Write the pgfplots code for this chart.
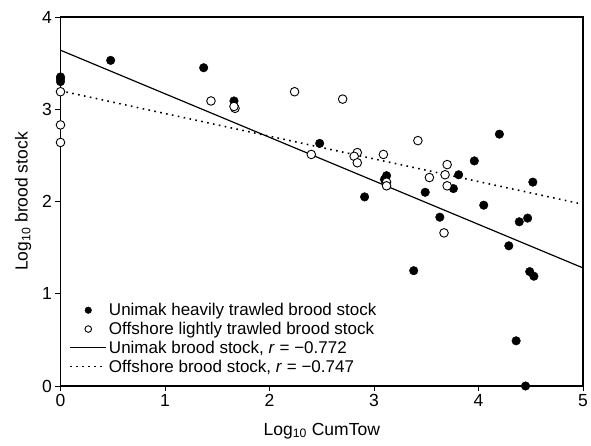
\documentclass[border=0pt]{standalone}
\usepackage{fontspec}
\setmainfont{Liberation Sans}
\usepackage{pgfplots}
\pgfplotsset{compat=1.18}

\pgfplotsset{
  dotlegend/.style={legend image code/.code={%
    \draw[mark repeat=2,mark phase=2,##1,mark size=3.3pt]
      plot coordinates {(0cm,0cm) (0.63cm,0cm) (1.26cm,0cm)};}},
  linelegend/.style={legend image code/.code={%
    \draw[##1] (0cm,0cm) -- (1.26cm,0cm);}},
}

\begin{document}
\begin{tikzpicture}
\path[use as bounding box] (-60.5pt,-59pt) rectangle (530.5pt,386pt);
\begin{axis}[
    scale only axis,
    width=522.5pt, height=369pt,
    xmin=0, xmax=5, ymin=0, ymax=4,
    xtick={0,1,...,5}, ytick={0,1,...,4},
    tick align=outside,
    major tick length=5pt,
    xtick pos=bottom, ytick pos=left,
    axis line style={line width=1.2pt},
    tick style={line width=1pt, black},
    font=\fontsize{17.5}{19}\selectfont,
    /pgf/number format/assume math mode=true,
    clip=false,
    xlabel={Log\textsubscript{10} CumTow},
    ylabel={Log\textsubscript{10} brood stock},
    xlabel style={yshift=-9pt},
    ylabel style={yshift=4pt},
    legend style={draw=none, fill=none, at={(rel axis cs:0.015,0.025)},
      anchor=south west, font=\fontsize{17}{18}\selectfont,
      row sep=1pt, inner sep=1pt},
    legend cell align=left,
]
% Unimak heavily trawled
\addplot[only marks, mark=*, mark size=4.3pt, black, dotlegend] coordinates {
  (0,3.35) (0,3.33) (0,3.30) (0.48,3.53) (1.37,3.45) (1.66,3.09)
  (2.48,2.63) (2.91,2.05) (3.12,2.28) (3.10,2.24) (3.49,2.10)
  (4.20,2.73) (3.96,2.44) (3.81,2.29) (3.76,2.14) (4.52,2.21)
  (4.05,1.96) (3.63,1.83) (4.47,1.82) (4.39,1.78) (4.29,1.52)
  (3.38,1.25) (4.49,1.24) (4.53,1.19) (4.36,0.49) (4.45,0.0)
};
\addlegendentry{Unimak heavily trawled brood stock}
% Offshore lightly trawled
\addplot[only marks, mark=*, mark size=4.3pt, black, fill=white,
  mark options={line width=0.9pt}, dotlegend] coordinates {
  (0,3.19) (0,2.83) (0,2.64) (1.44,3.09) (1.67,3.01) (1.66,3.03)
  (2.24,3.19) (2.70,3.11) (2.40,2.51) (2.84,2.53) (2.81,2.49)
  (2.84,2.42) (3.09,2.51) (3.42,2.66) (3.12,2.21) (3.12,2.17)
  (3.53,2.26) (3.70,2.40) (3.68,2.29) (3.70,2.17) (3.67,1.66)
};
\addlegendentry{Offshore lightly trawled brood stock}
\addplot[black, line width=1.2pt, linelegend] coordinates {(0,3.64) (5,1.28)};
\addlegendentry{Unimak brood stock, \textit{r} = −0.772}
\addplot[black, line width=1.6pt, dash pattern=on 1.6pt off 4.4pt, linelegend]
  coordinates {(0,3.20) (5,1.97)};
\addlegendentry{Offshore brood stock, \textit{r} = −0.747}
\end{axis}
\end{tikzpicture}
\end{document}
